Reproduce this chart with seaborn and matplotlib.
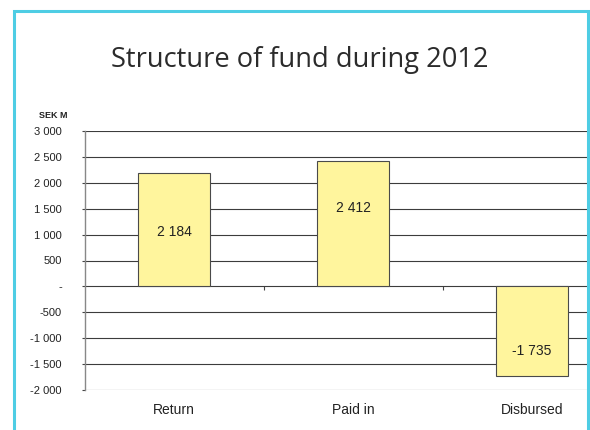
import matplotlib
matplotlib.use("Agg")
import matplotlib.pyplot as plt
from matplotlib.lines import Line2D
from matplotlib.ticker import FuncFormatter, FixedLocator
import pandas as pd
import seaborn as sns

# Fund flows during 2012, SEK M
categories = ["Return", "Paid in", "Disbursed"]
values = [2184, 2412, -1735]
# where each value label sits, as a share of its bar's height
label_share = [0.485, 0.625, 0.724]
y_ticks = [3000, 2500, 2000, 1500, 1000, 500, 0, -500, -1000, -1500, -2000]

df = pd.DataFrame({"category": categories, "value": values})

sns.set_theme(style="white")
plt.rcParams["font.family"] = ["Liberation Sans", "DejaVu Sans"]

W, H = 590, 430
fig = plt.figure(figsize=(W / 100, H / 100), dpi=100)
fig.patch.set_facecolor("white")

left_px, right_px, top_px, bottom_px = 84.5, 587, 131, 390
ax = fig.add_axes([left_px / W, 1 - bottom_px / H,
                   (right_px - left_px) / W, (bottom_px - top_px) / H])

bar_color = "#FFF59D"
sns.barplot(data=df, x="category", y="value", order=categories,
            color=bar_color, saturation=1, width=0.40,
            edgecolor="#4a4a4a", linewidth=0.8, ax=ax, zorder=3)

slot_px = 179.0
ax.set_xlim(-0.5, -0.5 + (right_px - left_px) / slot_px)
ax.set_ylim(-2000, 3000)

# horizontal grid
for v in y_ticks:
    ax.axhline(v, color="#3c3c3c", lw=0.8, zorder=1)

def thousands(v, _pos=None):
    v = int(round(v))
    if v == 0:
        return "-"
    s = f"{abs(v):,}".replace(",", " ")
    return ("-" if v < 0 else "") + s

ax.yaxis.set_major_locator(FixedLocator(y_ticks))
ax.yaxis.set_major_formatter(FuncFormatter(thousands))
ax.tick_params(axis="y", which="major", left=True, length=2.2, width=0.8,
               color="#444444", pad=14, labelsize=8, labelcolor="#222222")
ax.tick_params(axis="x", length=0, pad=9, labelsize=10, labelcolor="#222222")
ax.set_xlabel("")
ax.set_ylabel("")

for side in ["top", "right", "bottom"]:
    ax.spines[side].set_visible(False)
ax.spines["left"].set_color("#888888")
ax.spines["left"].set_linewidth(1.0)

# small category separators hanging below the zero line
zero_frac = (0 - (-2000)) / (3000 - (-2000))
sec = ax.secondary_xaxis(zero_frac)
sec.set_xticks([0.5, 1.5])
sec.set_xticklabels([])
sec.tick_params(axis="x", direction="out", length=3, width=0.8, color="#444444")
sec.spines["bottom"].set_visible(False)

# value labels inside the bars
for i, (v, share) in enumerate(zip(values, label_share)):
    ax.text(i, v * share, thousands(v), ha="center", va="center",
            fontsize=10, color="#222222", zorder=4)

# unit label
fig.text(53 / W, 1 - 115 / H, "SEK M", ha="center", va="center",
         fontsize=6.5, fontweight="bold", color="#222222")

# title
fig.text(299.5 / W, 1 - 67 / H, "Structure of fund during 2012",
         ha="center", va="baseline", fontsize=19.6, color="#2b2b2b",
         family=["Open Sans", "DejaVu Sans"])

# frame around the chart (open at the bottom)
frame = Line2D([14 / W, 14 / W, 587.5 / W, 587.5 / W],
               [0, 1 - 10.5 / H, 1 - 10.5 / H, 0],
               transform=fig.transFigure, color="#4ECDE4", lw=2.2,
               solid_joinstyle="miter")
fig.add_artist(frame)

fig.savefig("out.png", dpi=100)
